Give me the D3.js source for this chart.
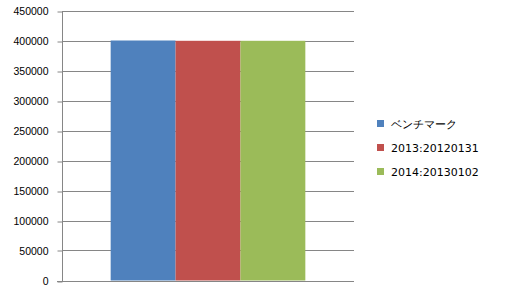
<!DOCTYPE html>
<html>
<head>
<meta charset="utf-8">
<script src="https://cdn.jsdelivr.net/npm/d3@7"></script>
<style>
  body { margin: 0; background: #fff; }
  svg { display: block; font-family: "DejaVu Sans", sans-serif; }
  .grid line { stroke: #868686; }
  .axis text { font-size: 10.5px; fill: #000; }
  .legend text { font-size: 11px; fill: #000; }
</style>
</head>
<body>
<svg width="505" height="291"></svg>
<script>
const seriesNames = ["ベンチマーク", "2013:20120131", "2014:20130102"];
const seriesValues = [400000, 399500, 399500];
const seriesColors = ["#4f81bd", "#c0504d", "#9bbb59"];
const yTicks = [0, 50000, 100000, 150000, 200000, 250000, 300000, 350000, 400000, 450000];

const svg = d3.select("svg");
const plot = { left: 62, right: 354, top: 10.5, bottom: 280.5 };

const y = d3.scaleLinear()
  .domain([0, 450000])
  .range([plot.bottom, plot.top]);

// single category, gap width 150% -> 0.75 band on each side of the 3 bars
const gap = (plot.right - plot.left) * 0.75 / 4.5;
const x = d3.scaleBand()
  .domain(seriesNames)
  .range([plot.left + gap, plot.right - gap]);

// gridlines
svg.append("g")
  .attr("class", "grid")
  .selectAll("line")
  .data(yTicks.slice(1))
  .enter().append("line")
  .attr("x1", plot.left)
  .attr("x2", plot.right)
  .attr("y1", d => Math.round(y(d)) + 0.5)
  .attr("y2", d => Math.round(y(d)) + 0.5);

// bars
svg.selectAll(".bar")
  .data(seriesValues)
  .enter().append("rect")
  .attr("class", "bar")
  .attr("x", (d, i) => x(seriesNames[i]))
  .attr("width", x.bandwidth())
  .attr("y", d => y(d))
  .attr("height", d => y(0) - y(d))
  .attr("fill", (d, i) => seriesColors[i]);

// y axis
const yAxis = d3.axisLeft(y)
  .tickValues(yTicks)
  .tickSize(5)
  .tickPadding(9)
  .tickFormat(d3.format("d"));

const ya = svg.append("g")
  .attr("class", "axis")
  .attr("transform", `translate(${plot.left + 0.5},0.5)`)
  .call(yAxis);
ya.select(".domain").attr("stroke", "#868686").attr("d", `M0,${Math.round(plot.top)}V${Math.round(plot.bottom)}`);
ya.selectAll(".tick line").attr("stroke", "#868686").attr("transform", d => `translate(0,${Math.round(y(d)) - y(d)})`);

// x baseline
svg.append("line")
  .attr("x1", plot.left - 5)
  .attr("x2", plot.right)
  .attr("y1", Math.round(y(0)) + 0.5)
  .attr("y2", Math.round(y(0)) + 0.5)
  .attr("stroke", "#868686");

// legend
const legend = svg.append("g")
  .attr("class", "legend")
  .attr("transform", "translate(377,120)");

const item = legend.selectAll("g")
  .data(seriesNames)
  .enter().append("g")
  .attr("transform", (d, i) => `translate(0,${i * 24})`);

item.append("rect")
  .attr("width", 7)
  .attr("height", 7)
  .attr("fill", (d, i) => seriesColors[i]);

item.append("text")
  .attr("x", 14)
  .attr("y", 4)
  .attr("dy", "0.35em")
  .text(d => d);
</script>
</body>
</html>
